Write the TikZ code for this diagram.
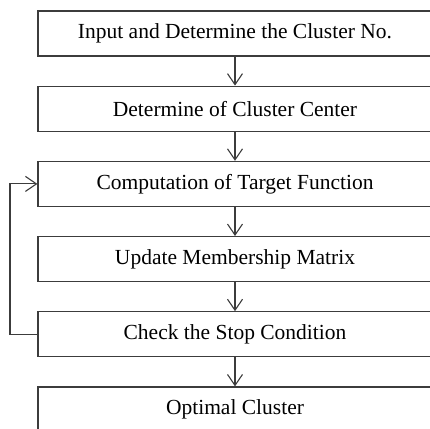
\documentclass[tikz,border=0pt]{standalone}
\usepackage{fontspec}
\setmainfont{Liberation Serif}
\usepackage{tikz}
\usetikzlibrary{positioning,arrows.meta}
\definecolor{boxgray}{RGB}{60,60,60}
\tikzset{
  step-box/.style={draw=boxgray, line width=1.2pt, minimum width=394pt,
    minimum height=45pt, inner sep=0pt, font=\fontsize{21.5}{25}\selectfont},
  flow-arrow/.style={-{Straight Barb[length=11pt, width=15pt]}, line width=1.1pt, draw=boxgray}
}
\begin{document}
\begin{tikzpicture}[x=1pt, y=1pt, node distance=29pt]
\clip (0,0) rectangle (430,428);
\useasboundingbox (0,0) rectangle (430,428);
% Steps of the algorithm
\node[step-box] (input) at (235,394.5) {Input and Determine the Cluster No.};
\node[step-box, below=of input] (ccenter) {Determine of Cluster Center};
\node[step-box, below=of ccenter] (target) {Computation of Target Function};
\node[step-box, below=of target] (update) {Update Membership Matrix};
\node[step-box, below=of update] (check) {Check the Stop Condition};
\node[step-box, below=of check] (optimal) {Optimal Cluster};

% Forward arrows
\draw[flow-arrow] (input.south) -- (ccenter.north);
\draw[flow-arrow] (ccenter.south) -- (target.north);
\draw[flow-arrow] (target.south) -- (update.north);
\draw[flow-arrow] (update.south) -- (check.north);
\draw[flow-arrow] (check.south) -- (optimal.north);

% Loop back
\coordinate (loop) at (10,0);
\draw[flow-arrow] (check.west) -| (loop |- check.west) |- (target.west);
\end{tikzpicture}
\end{document}
